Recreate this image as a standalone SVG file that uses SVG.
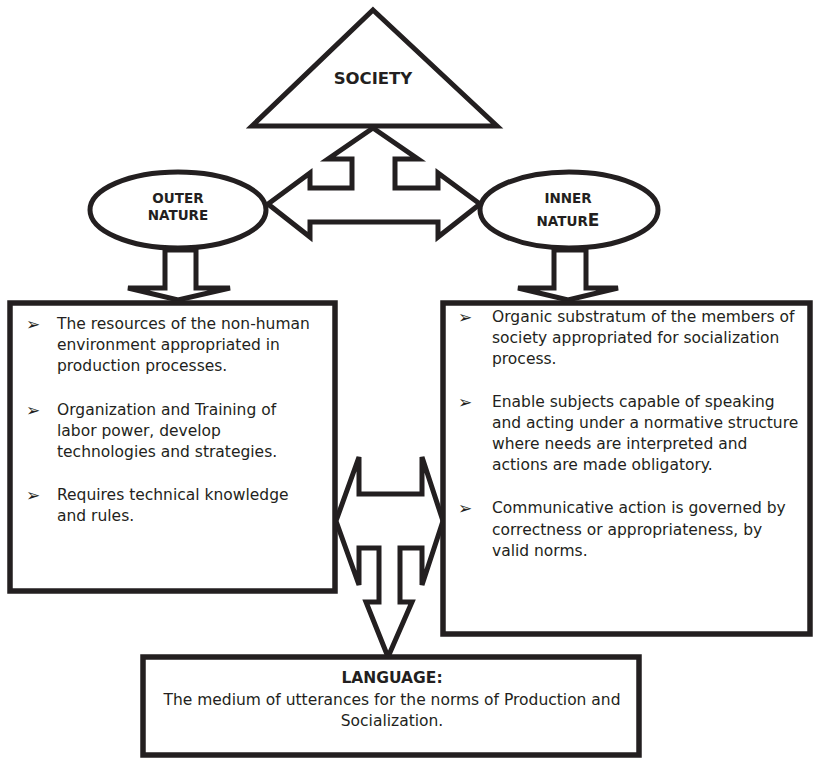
<svg xmlns="http://www.w3.org/2000/svg" width="814" height="760" viewBox="0 0 814 760">
<style>
.shape{fill:#fff;stroke:#231f20;stroke-width:5;stroke-linejoin:miter}
.box{fill:#fff;stroke:#231f20;stroke-width:5.5}
.t{font-family:"DejaVu Sans","Liberation Sans",sans-serif;font-size:15.5px;fill:#231f20}
.b{font-family:"DejaVu Sans","Liberation Sans",sans-serif;font-weight:bold;fill:#231f20}
.bul{font-family:"DejaVu Sans","Noto Sans",sans-serif;font-size:17px;fill:#231f20}
</style>
<rect width="814" height="760" fill="#fff"/>
<g id="connectors">
  <polygon class="shape" points="373,128 418,159 395,159 395,188 438,188 438,173 480,204 438,237 438,222 310,222 310,237 268,204 310,173 310,188 352,188 352,159 328,159"/>
  <polygon class="shape" points="165,250 165,288 128,288 178,300 230,288 196,288 196,250"/>
  <polygon class="shape" points="554,250 554,288 518,288 568,300 618,288 586,288 586,250"/>
  <polygon class="shape" points="336,521 359,457 359,494 422,494 422,457 443,521 422,585 422,548 400,548 400,602 412,602 388,657 366,602 379,602 379,548 359,548 359,585"/>
</g>
<g id="society">
  <polygon class="shape" points="373,10 497,126 252,126"/>
  <text class="b" x="373" y="84" font-size="16.5" text-anchor="middle">SOCIETY</text>
</g>
<g id="outer-nature">
  <ellipse class="shape" cx="178" cy="210" rx="88" ry="38"/>
  <text class="b" x="178" y="203" font-size="13.5" text-anchor="middle">OUTER</text>
  <text class="b" x="178" y="220" font-size="13.5" text-anchor="middle">NATURE</text>
</g>
<g id="inner-nature">
  <ellipse class="shape" cx="569" cy="210" rx="89" ry="38"/>
  <text class="b" x="568" y="203" font-size="13.5" text-anchor="middle">INNER</text>
  <text class="b" x="568" y="226" font-size="13.5" text-anchor="middle">NATUR<tspan font-size="17">E</tspan></text>
</g>
<g id="outer-box">
  <rect class="box" x="10" y="303" width="325" height="288"/>
  <text class="bul" x="26" y="330">➢</text>
  <text class="t" x="57" y="329">The resources of the non-human</text>
  <text class="t" x="57" y="350">environment appropriated in</text>
  <text class="t" x="57" y="371">production processes.</text>
  <text class="bul" x="26" y="416">➢</text>
  <text class="t" x="57" y="415">Organization and Training of</text>
  <text class="t" x="57" y="436">labor power, develop</text>
  <text class="t" x="57" y="457">technologies and strategies.</text>
  <text class="bul" x="26" y="501">➢</text>
  <text class="t" x="57" y="500">Requires technical knowledge</text>
  <text class="t" x="57" y="521">and rules.</text>
</g>
<g id="inner-box">
  <rect class="box" x="443" y="303" width="367" height="331"/>
  <text class="bul" x="458" y="323">➢</text>
  <text class="t" x="492" y="322">Organic substratum of the members of</text>
  <text class="t" x="492" y="343">society appropriated for socialization</text>
  <text class="t" x="492" y="364">process.</text>
  <text class="bul" x="458" y="408">➢</text>
  <text class="t" x="492" y="407">Enable subjects capable of speaking</text>
  <text class="t" x="492" y="428">and acting under a normative structure</text>
  <text class="t" x="492" y="449">where needs are interpreted and</text>
  <text class="t" x="492" y="470">actions are made obligatory.</text>
  <text class="bul" x="458" y="514">➢</text>
  <text class="t" x="492" y="513">Communicative action is governed by</text>
  <text class="t" x="492" y="535">correctness or appropriateness, by</text>
  <text class="t" x="492" y="556">valid norms.</text>
</g>
<g id="language">
  <rect class="box" x="143" y="657" width="496" height="98"/>
  <text class="b" x="392" y="683" font-size="15.5" text-anchor="middle">LANGUAGE:</text>
  <text class="t" x="392" y="705" text-anchor="middle">The medium of utterances for the norms of Production and</text>
  <text class="t" x="392" y="726" text-anchor="middle">Socialization.</text>
</g>
</svg>
